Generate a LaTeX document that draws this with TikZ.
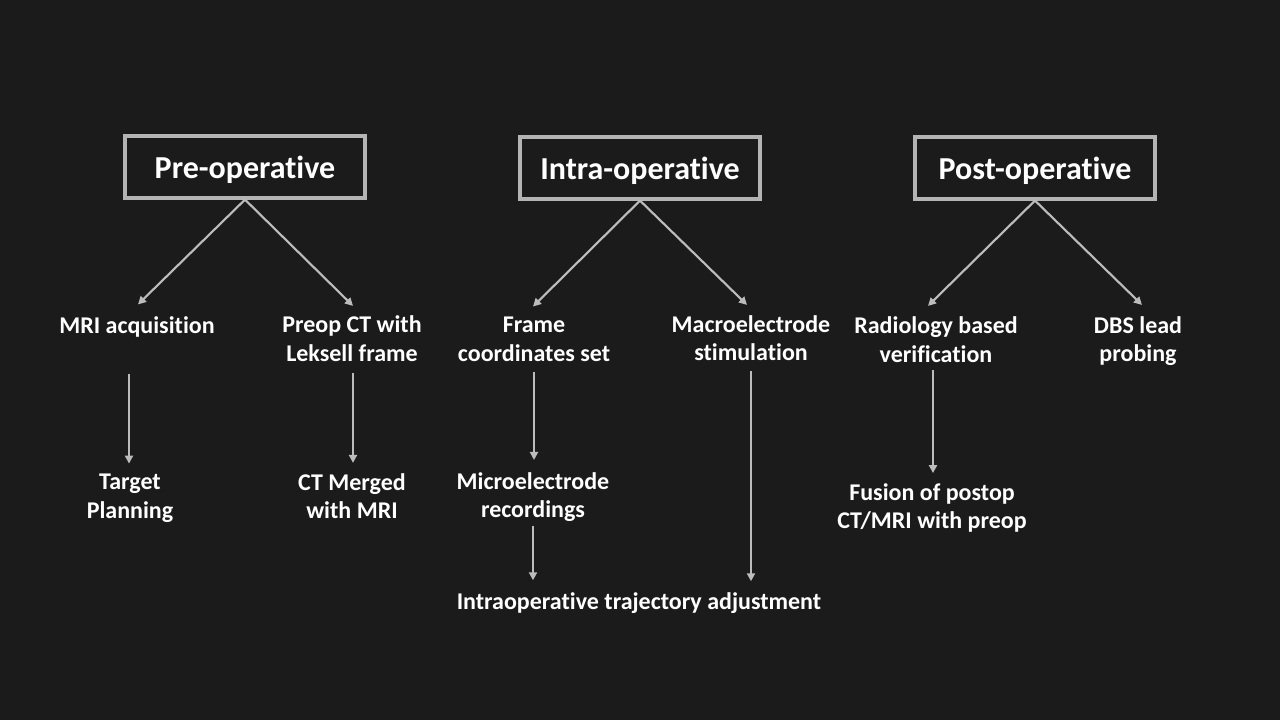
\documentclass[tikz,border=0pt]{standalone}
\usepackage{fontspec}
\setmainfont{Carlito}[Ligatures={NoCommon,NoRare,NoContextual}]
\usetikzlibrary{arrows.meta,calc}
\definecolor{bg}{HTML}{1B1B1B}
\definecolor{ln}{HTML}{BCBCBC}
\definecolor{bx}{HTML}{B4B4B4}
\begin{document}
\begin{tikzpicture}[x=0.75pt,y=-0.75pt,
  phase/.style={draw=bx,line width=2.4pt,minimum width=240*0.75pt,minimum height=62*0.75pt,inner sep=0pt,
    text depth=0pt,text=white,font=\fontsize{24}{28}\selectfont\bfseries},
  item/.style={text=white,align=center,inner sep=0pt,font=\fontsize{18}{21.5}\selectfont\bfseries},
  conn/.style={draw=ln,line width=1.6pt,-{Triangle[width=6pt,length=6pt]}}]
\fill[bg] (0,0) rectangle (1280,720);
\useasboundingbox (0,0) rectangle (1280,720);
% phases
\node[phase] (pre) at (245,167) {Pre-operative};
\node[phase] (intra) at (640,168) {Intra-operative};
\node[phase] (post) at (1035,168) {Post-operative};
% level 1
\node[item] (mri) at (137,327) {MRI acquisition};
\node[item] (preop) at (352,339) {Preop CT with\\Leksell frame};
\node[item] (frame) at (534,339) {Frame\\coordinates set};
\node[item] (macro) at (751,338) {Macroelectrode\\stimulation};
\node[item] (radio) at (936,340) {Radiology based\\verification};
\node[item] (dbs) at (1138,341) {DBS lead\\probing};
% level 2
\node[item] (target) at (130,498) {Target\\Planning};
\node[item] (merged) at (352,496) {CT Merged\\with MRI};
\node[item] (micro) at (533,497) {Microelectrode\\recordings};
\node[item] (fusion) at (932,508) {Fusion of postop\\CT/MRI with preop};
\node[item] (traj) at (639,603) {Intraoperative trajectory adjustment};
% connectors
\draw[conn] (pre.south) -- ($(mri.north)+(1,-12)$);
\draw[conn] (pre.south) -- ($(preop.north)+(1,-10)$);
\draw[conn] (intra.south) -- ($(frame.north)+(-1,-10)$);
\draw[conn] (intra.south) -- ($(macro.north)+(-4,-10)$);
\draw[conn] (post.south) -- ($(radio.north)+(-8,-11)$);
\draw[conn] (post.south) -- ($(dbs.north)+(4,-11)$);
\draw[conn] ($(mri.south -| target.north)+(-1,36)$) -- ($(target.north)+(-1,-10)$);
\draw[conn] ($(preop.south -| merged.north)+(1,11)$) -- ($(merged.north)+(1,-10)$);
\draw[conn] ($(frame.south)+(0,11)$) -- ($(frame.south |- micro.north)+(0,-12)$);
\draw[conn] ($(micro.south)+(0,4)$) -- ($(micro.south |- traj.north)+(0,-12)$);
\draw[conn] ($(macro.south)+(0,10)$) -- ($(macro.south |- traj.north)+(0,-11)$);
\draw[conn] ($(radio.south -| fusion.north)+(1,7)$) -- ($(fusion.north)+(1,-10)$);
\end{tikzpicture}
\end{document}
